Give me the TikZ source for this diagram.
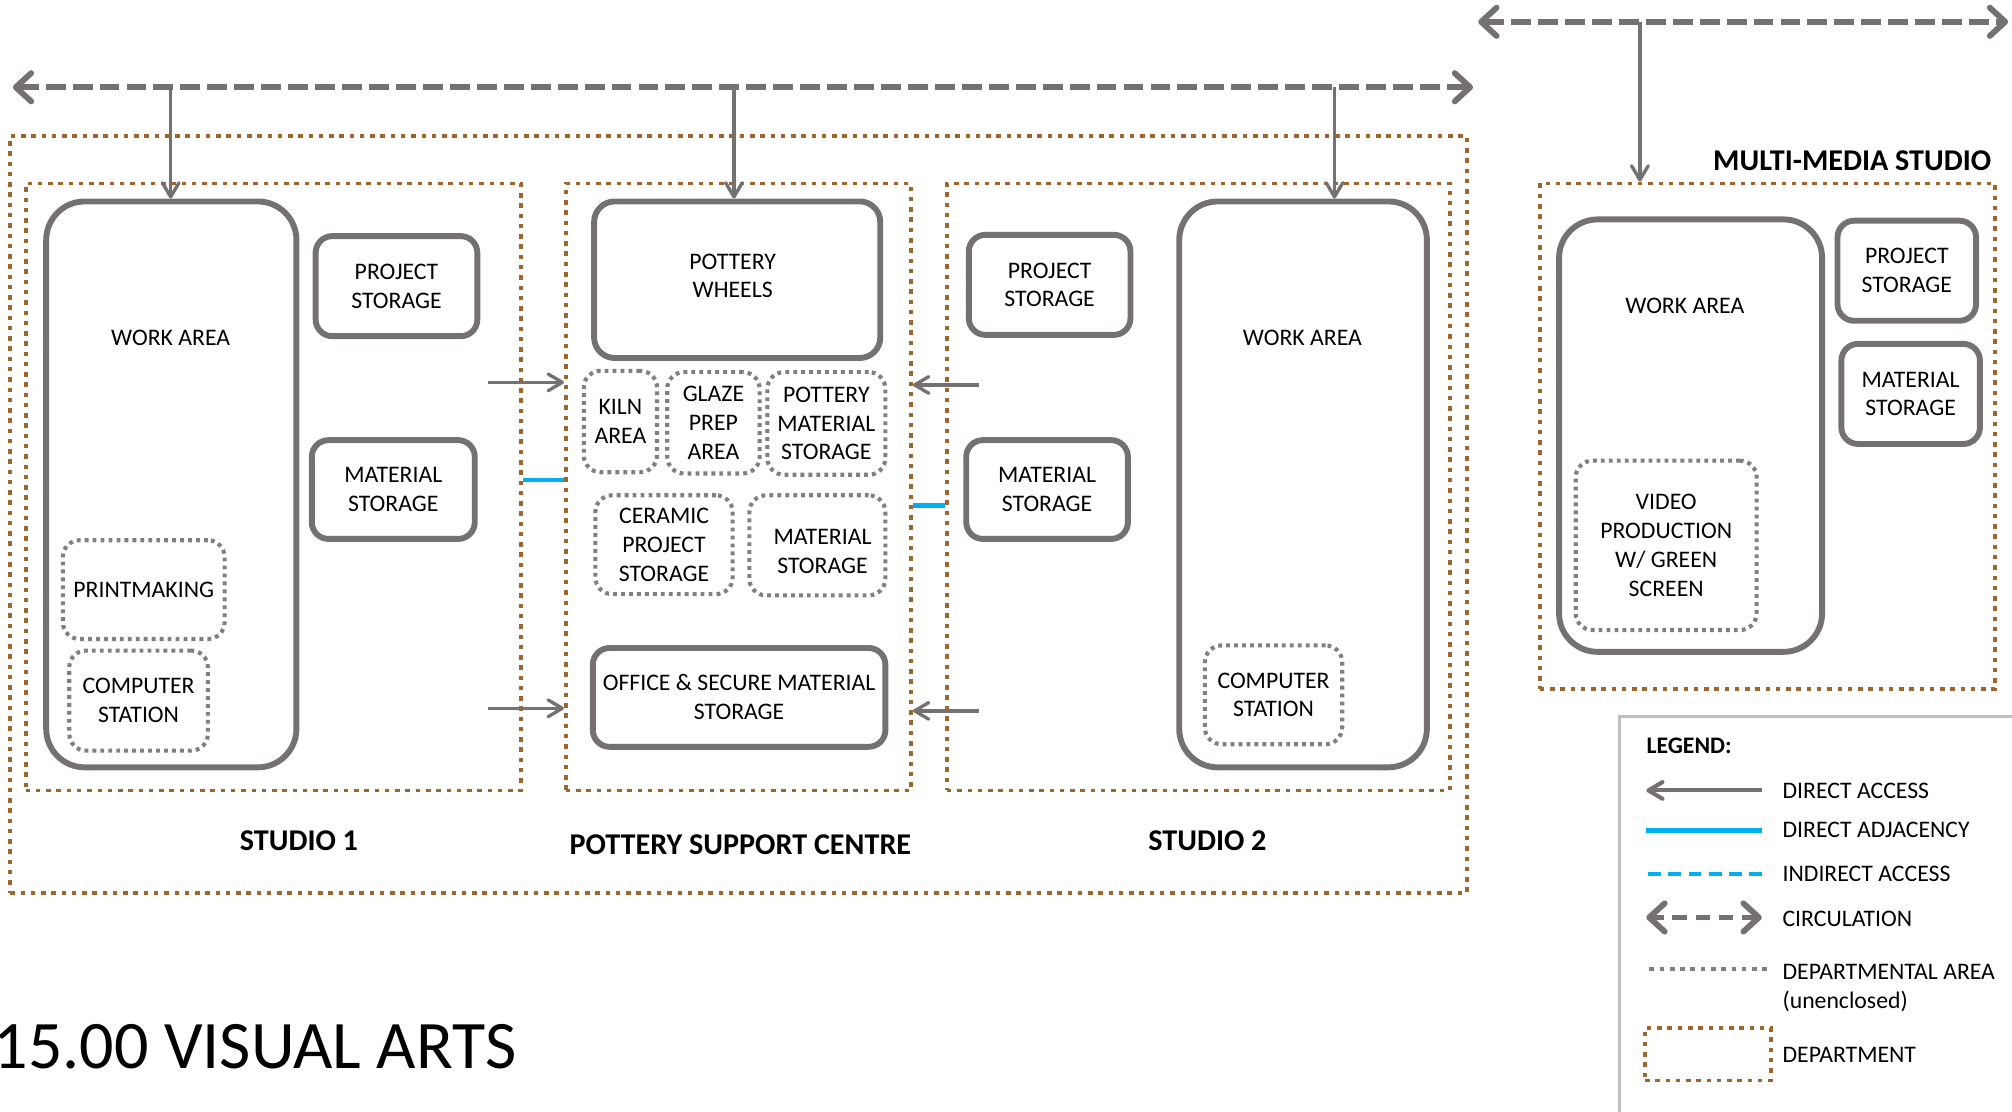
\documentclass[tikz,border=0pt]{standalone}
\usepackage{fontspec}
\setmainfont{Carlito}
\usetikzlibrary{arrows.meta}
\definecolor{wallgray}{RGB}{118,113,113}
\definecolor{dotgray}{RGB}{128,128,128}
\definecolor{deptbrown}{RGB}{158,102,44}
\definecolor{adjblue}{RGB}{0,176,240}
\definecolor{legendgray}{RGB}{191,191,191}
\newcommand{\roomfont}{\fontsize{18.5}{22.5}\selectfont}
\newcommand{\deptfont}{\fontsize{23.5}{28}\selectfont\bfseries}
\begin{document}
\begin{tikzpicture}[x=1pt,y=-1pt,
	room/.style={draw=wallgray,line width=4.6pt,rounded corners=13pt,inner sep=1pt,align=center,font=\roomfont},
	bigroom/.style={room,rounded corners=30pt},
	area/.style={draw=dotgray,line width=3.2pt,dash pattern=on 3pt off 3.2pt,rounded corners=13pt,inner sep=1pt,align=center,font=\roomfont},
	dept/.style={draw=deptbrown,line width=3pt,dash pattern=on 3.5pt off 4.5pt,inner sep=0pt},
	txt/.style={align=center,font=\roomfont,inner sep=0pt},
	deptname/.style={font=\deptfont,inner sep=0pt},
	access/.style={draw=wallgray,line width=2.6pt,-{Straight Barb[length=11pt,width=13pt,round]}},
	adjacent/.style={draw=adjblue,line width=3.6pt},
	circulation/.style={draw=wallgray,line width=4.6pt,dash pattern=on 15.5pt off 5.5pt,{Straight Barb[length=12pt,width=22pt,round]}-{Straight Barb[length=12pt,width=22pt,round]}}]
	\useasboundingbox (0,0) rectangle (1568,866);

	% departments
	\node [dept,minimum width=1135pt,minimum height=590pt] (visarts) at (575.5,401) {};
	\node [dept,minimum width=386pt,minimum height=473pt] (s1) at (213,379.5) {};
	\node [dept,minimum width=269pt,minimum height=473pt] (psc) at (575.5,379.5) {};
	\node [dept,minimum width=392pt,minimum height=473pt] (s2) at (934,379.5) {};
	\node [dept,minimum width=355pt,minimum height=394pt] (mm) at (1377.5,340) {};

	\node [deptname] (s1name) at (233,655) {STUDIO 1};
	\node [deptname] (pscname) at (577,658) {POTTERY SUPPORT CENTRE};
	\node [deptname] (s2name) at (941,655) {STUDIO 2};
	\node [deptname,anchor=east] (mmname) at (1552,125) {MULTI-MEDIA STUDIO};

	% studio 1
	\node [bigroom,minimum width=195pt,minimum height=441pt] (wa1) at (133.5,377.5) {};
	\node [txt] (wa1name) at (133,263) {WORK AREA};
	\node [room,minimum width=126pt,minimum height=78pt] (ps1) at (309,223) {PROJECT\\STORAGE};
	\node [room,minimum width=127pt,minimum height=77pt] (ms1) at (306.5,381.5) {MATERIAL\\STORAGE};
	\node [area,minimum width=126pt,minimum height=77pt] (pm1) at (112,459.5) {PRINTMAKING};
	\node [area,minimum width=108pt,minimum height=78pt] (cs1) at (108,546) {COMPUTER\\STATION};

	% pottery support centre
	\node [room,rounded corners=16pt,minimum width=223pt,minimum height=122pt] (pw) at (574.5,218) {};
	\node [txt] (pwname) at (571,215) {POTTERY\\WHEELS};
	\node [area,minimum width=57pt,minimum height=79pt] (kiln) at (483.5,328.5) {KILN\\AREA};
	\node [area,minimum width=72pt,minimum height=79pt] (glaze) at (556,329.5) {GLAZE\\PREP\\AREA};
	\node [area,minimum width=92pt,minimum height=80pt] (pms) at (644,330) {POTTERY\\MATERIAL\\STORAGE};
	\node [area,minimum width=107pt,minimum height=77pt] (cps) at (517.5,424.5) {CERAMIC\\PROJECT\\STORAGE};
	\node [area,minimum width=106pt,minimum height=78pt] (pmat) at (637,425) {};
	\node [txt] (pmatname) at (641,430) {MATERIAL\\STORAGE};
	\node [room,minimum width=228pt,minimum height=77pt] (office) at (576,543.5) {OFFICE \& SECURE MATERIAL\\STORAGE};

	% studio 2
	\node [room,minimum width=126pt,minimum height=78pt] (ps2) at (818,222) {PROJECT\\STORAGE};
	\node [room,minimum width=126pt,minimum height=77pt] (ms2) at (816,381.5) {MATERIAL\\STORAGE};
	\node [bigroom,minimum width=193pt,minimum height=441pt] (wa2) at (1015.5,377.5) {};
	\node [txt] (wa2name) at (1015,263) {WORK AREA};
	\node [area,minimum width=107pt,minimum height=77pt] (cs2) at (992.5,541.5) {COMPUTER\\STATION};

	% multi-media studio
	\node [bigroom,minimum width=205pt,minimum height=337pt] (wa3) at (1317.5,339.5) {};
	\node [txt] (wa3name) at (1313,238) {WORK AREA};
	\node [room,minimum width=108pt,minimum height=78pt] (ps3) at (1486,211) {PROJECT\\STORAGE};
	\node [room,minimum width=108pt,minimum height=78pt] (ms3) at (1489,307) {MATERIAL\\STORAGE};
	\node [area,minimum width=141pt,minimum height=132pt] (vp) at (1298.5,425) {VIDEO\\PRODUCTION\\W/ GREEN\\SCREEN};

	% circulation and access
	\coordinate (circL) at (10,68);
	\coordinate (circR) at (1148,68);
	\coordinate (mmL) at (1152,17);
	\coordinate (mmR) at (1565,17);
	\draw [circulation] (circL) -- (circR);
	\draw [circulation] (mmL) -- (mmR);

	\coordinate (drop1) at (133,68);
	\coordinate (drop2) at (572,68);
	\coordinate (drop3) at (1040,68);
	\coordinate (drop4) at (1278,17);
	\draw [access] (drop1) -- (drop1 |- wa1.north);
	\draw [access] (drop2) -- (drop2 |- pw.north);
	\draw [access] (drop3) -- (drop3 |- wa2.north);
	\draw [access] (drop4) -- (drop4 |- mm.north);

	\coordinate (in1) at (380,298);
	\coordinate (in2) at (380,552);
	\coordinate (in3) at (763,300);
	\coordinate (in4) at (763,554);
	\draw [access] (in1) -- (in1 -| psc.west);
	\draw [access] (in2) -- (in2 -| psc.west);
	\draw [access] (in3) -- (in3 -| psc.east);
	\draw [access] (in4) -- (in4 -| psc.east);

	\draw [adjacent] (s1.east |- 0,374) -- (psc.west |- 0,374);
	\draw [adjacent] (psc.east |- 0,394) -- (s2.west |- 0,394);

	% legend
	\node [draw=legendgray,line width=2.4pt,minimum width=330pt,minimum height=340pt,anchor=north west] (legend) at (1261,557) {};
	\node [txt,anchor=west,font=\roomfont\bfseries] (lgtitle) at (1283,581) {LEGEND:};
	\node [txt,anchor=west] (lgacc) at (1389,616) {DIRECT ACCESS};
	\node [txt,anchor=west] (lgadj) at (1389,647) {DIRECT ADJACENCY};
	\node [txt,anchor=west] (lgind) at (1389,681) {INDIRECT ACCESS};
	\node [txt,anchor=west] (lgcirc) at (1389,716) {CIRCULATION};
	\node [txt,anchor=north west,align=left] (lgarea) at (1389,751) {DEPARTMENTAL AREA\\(unenclosed)};
	\node [txt,anchor=west] (lgdept) at (1389,822) {DEPARTMENT};

	\draw [access,line width=3.2pt] (lgacc.west) ++(-16,0) -- ++(-90,0);
	\draw [adjacent] (lgadj.west) ++(-16,0) -- ++(-90,0);
	\draw [adjacent,dash pattern=on 10pt off 5.7pt] (lgind.west) ++(-16,0) -- ++(-90,0);
	\draw [circulation,dash pattern=on 11pt off 7pt] (lgcirc.west) ++(-16,-1) -- ++(-90,0);
	\draw [draw=dotgray,line width=3.4pt,dash pattern=on 3.6pt off 4.4pt] (lgarea.north west) ++(-12,4) -- ++(-92,0);
	\node [dept,minimum width=98pt,minimum height=41pt] (lgbox) at (1331,821.5) {};

	\node [anchor=west,inner sep=0pt,font=\fontsize{53}{60}\selectfont] (pagetitle) at (-5,816) {15.00 VISUAL ARTS};
\end{tikzpicture}
\end{document}
